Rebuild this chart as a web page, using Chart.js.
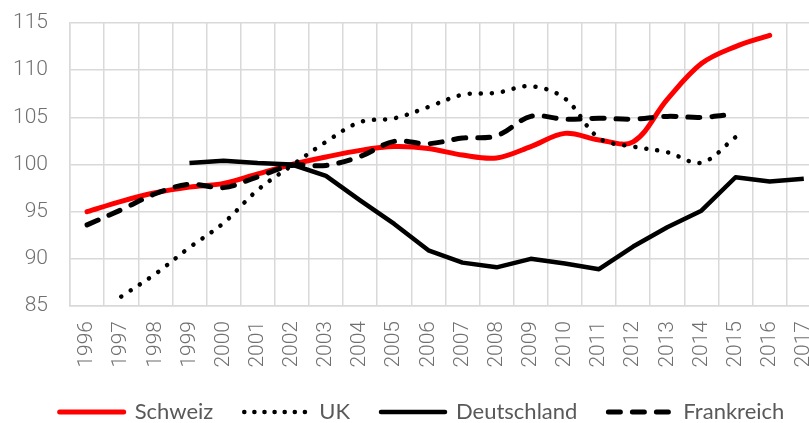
<!DOCTYPE html>
<html>
<head>
<meta charset="utf-8">
<script src="https://cdn.jsdelivr.net/npm/chart.js@4/dist/chart.umd.min.js"></script>
<style>
  html, body { margin: 0; padding: 0; background: #fff; overflow: hidden; }
  #wrap { width: 844px; height: 423px; }
</style>
</head>
<body>
<div id="wrap"><canvas id="chart"></canvas></div>
<script>
// Years on the x axis
const years = ['1996', '1997', '1998', '1999', '2000', '2001', '2002', '2003', '2004', '2005', '2006',
  '2007', '2008', '2009', '2010', '2011', '2012', '2013', '2014', '2015', '2016', '2017'];

// Index values (2002 = 100)
const schweiz = [95.0, 96.1, 97.0, 97.6, 98.0, 99.0, 100.0, 100.8, 101.5, 101.9, 101.7,
  101.0, 100.7, 101.9, 103.3, 102.6, 102.4, 106.9, 110.7, 112.5, 113.7, null];
const uk = [null, 86.0, 88.4, 91.2, 93.8, 97.3, 99.9, 102.4, 104.5, 104.9, 106.1,
  107.4, 107.6, 108.3, 107.0, 102.8, 101.9, 101.3, 100.2, 102.9, null, null];
const deutschland = [null, null, null, 100.15, 100.4, 100.15, 100.0, 98.8, 96.2, 93.7, 90.9,
  89.6, 89.1, 90.0, 89.5, 88.9, 91.3, 93.35, 95.1, 98.65, 98.2, 98.5];
const frankreich = [93.6, 95.2, 96.9, 97.9, 97.55, 98.7, 99.9, 99.9, 100.85, 102.45, 102.2,
  102.8, 103.05, 105.1, 104.8, 104.9, 104.8, 105.1, 105.0, 105.35, null, null];

const seriesNames = ['Schweiz', 'UK', 'Deutschland', 'Frankreich'];
const yTicks = [85, 90, 95, 100, 105, 110, 115];

const tickColor = '#707070';
const gridColor = '#d9d9d9';

const ctx = document.getElementById('chart');
const chart = new Chart(ctx, {
  type: 'line',
  data: {
    labels: years,
    datasets: [
      {
        label: seriesNames[0], data: schweiz, borderColor: '#ff0000', borderWidth: 5,
        tension: 0.35, order: 3, borderCapStyle: 'round'
      },
      {
        label: seriesNames[1], data: uk, borderColor: '#000000', borderWidth: 4.5,
        borderDash: [0.1, 11], borderCapStyle: 'round', tension: 0.35, order: 2
      },
      {
        label: seriesNames[2], data: deutschland, borderColor: '#000000', borderWidth: 4.5,
        tension: 0, order: 1, borderCapStyle: 'butt', borderJoinStyle: 'round'
      },
      {
        label: seriesNames[3], data: frankreich, borderColor: '#000000', borderWidth: 5,
        borderDash: [12, 12], borderCapStyle: 'round', tension: 0.35, order: 0
      }
    ]
  },
  options: {
    responsive: true,
    maintainAspectRatio: false,
    animation: false,
    elements: { point: { radius: 0, hoverRadius: 0 } },
    layout: { padding: { top: 23, left: 0, right: 0, bottom: -10 } },
    plugins: {
      tooltip: { enabled: false },
      legend: {
        position: 'bottom',
        labels: {
          usePointStyle: true,
          pointStyleWidth: 64,
          padding: 31,
          color: '#595959',
          font: { family: 'Lato', size: 22 },
          generateLabels: (c) => c.data.datasets.map((ds, i) => ({
            text: ds.label,
            fillStyle: ds.borderColor,
            strokeStyle: ds.borderColor,
            fontColor: '#595959',
            lineWidth: ds.borderWidth,
            lineDash: i === 1 ? [0.1, 10] : (ds.borderDash || []),
            lineCap: i === 0 || i === 2 ? 'round' : ds.borderCapStyle,
            pointStyle: 'line',
            hidden: false,
            datasetIndex: i
          }))
        }
      }
    },
    scales: {
      x: {
        offset: true,
        grid: { offset: true, color: gridColor, lineWidth: 1.5, drawTicks: false },
        border: { color: gridColor, width: 1.5 },
        ticks: {
          color: tickColor, font: { family: 'Roboto', size: 21, weight: 300 },
          minRotation: 90, maxRotation: 90, padding: 15, autoSkip: false
        },
        afterFit: (scale) => { scale.height = 64; }
      },
      y: {
        min: 85, max: 115,
        afterBuildTicks: (scale) => { scale.ticks = yTicks.map((v) => ({ value: v })); },
        grid: { color: gridColor, lineWidth: 1.5, drawTicks: false },
        border: { color: gridColor, width: 1.5 },
        ticks: {
          color: tickColor, font: { family: 'Roboto', size: 21, weight: 300 }, padding: 22
        },
        afterFit: (scale) => {
          scale.width = 70;
          // tick padding is horizontal here, keep it out of the vertical room
          scale.paddingTop = 12;
          scale.paddingBottom = 12;
        }
      }
    }
  }
});
</script>
</body>
</html>
